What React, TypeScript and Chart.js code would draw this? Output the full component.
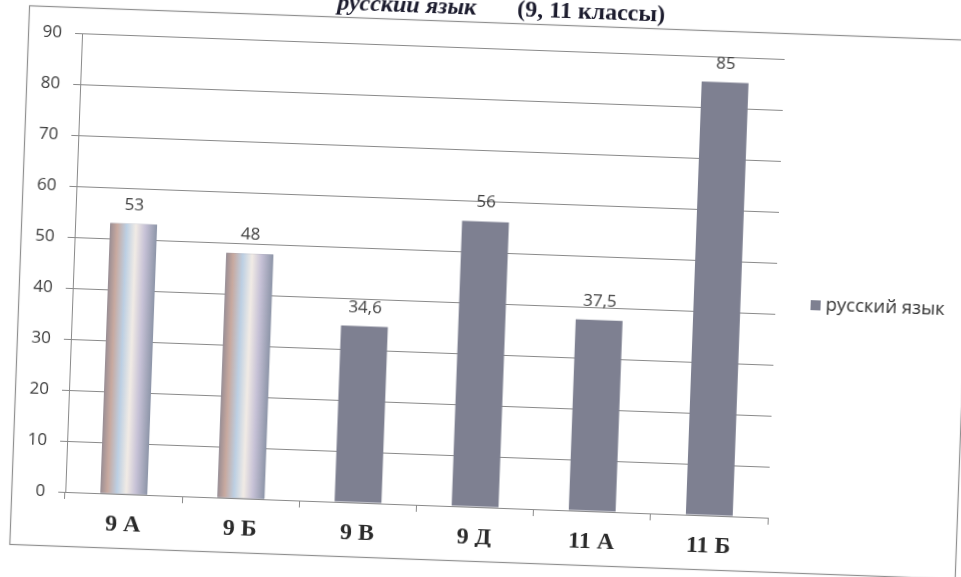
import { useEffect, useRef } from 'react';
import { Chart, registerables } from 'chart.js';

Chart.register(...registerables);

// ---- data ----
const categories = ['9 А', '9 Б', '9 В', '9 Д', '11 А', '11 Б'];
const scores = [53, 48, 34.6, 56, 37.5, 85];
const scoreLabels = ['53', '48', '34,6', '56', '37,5', '85'];
const seriesName = 'русский язык';
const yTickMin = 0;
const yTickMax = 90;
const yTickStep = 10;
const titleSubject = 'русский язык';
const titleGrades = '(9, 11 классы)';
const glareBars = [0, 1];

// ---- style ----
const W = 1001;
const H = 617;
const BAR = '#7e8091';
const GRID = '#8a8a8a';
const SANS = '"Open Sans", "Noto Sans", sans-serif';
const SERIF = '"Liberation Serif", "DejaVu Serif", serif';

export default function App() {
  const ref = useRef<HTMLCanvasElement>(null);

  useEffect(() => {
    const canvas = ref.current;
    if (!canvas) return;

    const decor = {
      id: 'decor',
      beforeDraw(chart: any) {
        const { ctx } = chart;
        ctx.save();
        ctx.fillStyle = '#ffffff';
        ctx.fillRect(0, 0, W, H);
        ctx.strokeStyle = '#8f8f8f';
        ctx.lineWidth = 1.2;
        ctx.strokeRect(39.5, 42.5, 946, 539);
        ctx.restore();
      },
      afterDatasetsDraw(chart: any) {
        const { ctx } = chart;
        const meta = chart.getDatasetMeta(0);
        ctx.save();
        glareBars.forEach((i) => {
          const bar = meta.data[i];
          if (!bar) return;
          const p = bar.getProps(['x', 'y', 'base', 'width'], true);
          const l = p.x - p.width / 2;
          const g = ctx.createLinearGradient(l, 0, l + p.width, 0);
          g.addColorStop(0, '#9a8e94');
          g.addColorStop(0.15, '#c8a99f');
          g.addColorStop(0.35, '#bccfe3');
          g.addColorStop(0.55, '#f1ebe5');
          g.addColorStop(0.75, '#c6c1d6');
          g.addColorStop(1, '#8d95a8');
          ctx.fillStyle = g;
          ctx.fillRect(l, p.y, p.width, p.base - p.y);
        });
        ctx.font = `17px ${SANS}`;
        ctx.fillStyle = '#404040';
        ctx.textAlign = 'center';
        ctx.textBaseline = 'alphabetic';
        meta.data.forEach((bar: any, i: number) => {
          ctx.fillText(scoreLabels[i], bar.x, bar.y - 14);
        });
        ctx.restore();
      },
      afterDraw(chart: any) {
        const { ctx } = chart;
        ctx.save();
        ctx.fillStyle = '#1c1c2e';
        ctx.textBaseline = 'alphabetic';
        ctx.font = `italic bold 24px ${SERIF}`;
        ctx.textAlign = 'right';
        ctx.fillText(titleSubject, 486, 35);
        ctx.font = `bold 24px ${SERIF}`;
        ctx.textAlign = 'left';
        ctx.fillText(titleGrades, 527, 35);

        // legend
        const ds = chart.data.datasets[0];
        ctx.fillStyle = BAR;
        ctx.fillRect(831, 308, 10, 10);
        ctx.font = `18.5px ${SANS}`;
        ctx.fillStyle = '#333333';
        ctx.textBaseline = 'middle';
        ctx.fillText(ds.label, 846, 313);
        ctx.restore();
      },
    };

    const chart = new Chart(canvas, {
      type: 'bar',
      data: {
        labels: categories,
        datasets: [
          {
            label: seriesName,
            data: scores,
            backgroundColor: BAR,
            borderWidth: 0,
            barPercentage: 0.4,
            categoryPercentage: 1,
          },
        ],
      },
      options: {
        responsive: false,
        animation: false,
        layout: { padding: { top: 68, bottom: 50, left: 33, right: 205 } },
        plugins: {
          legend: { display: false },
          tooltip: { enabled: false },
          title: { display: false },
        },
        scales: {
          x: {
            grid: {
              display: true,
              drawOnChartArea: false,
              drawTicks: true,
              tickLength: 7,
              color: GRID,
              offset: true,
            },
            border: { display: true, color: GRID },
            ticks: {
              font: { family: SERIF, size: 24, weight: 'bold' },
              color: '#2a2a2a',
              padding: 9,
              maxRotation: 0,
            },
            afterFit(s: any) {
              s.height = 40;
            },
          },
          y: {
            min: yTickMin,
            max: yTickMax,
            ticks: {
              stepSize: yTickStep,
              font: { family: SANS, size: 17 },
              color: '#3c3c3c',
              padding: 13,
            },
            grid: { color: GRID, tickLength: 7 },
            border: { display: true, color: GRID },
            afterFit(s: any) {
              s.width = 60;
            },
          },
        },
      },
      plugins: [decor],
    } as any);

    return () => chart.destroy();
  }, []);

  return (
    <div
      style={{
        position: 'fixed',
        left: 0,
        top: 0,
        width: 961,
        height: 577,
        overflow: 'hidden',
        background: '#ffffff',
      }}
    >
      <div
        style={{
          position: 'absolute',
          left: -20,
          top: -20,
          width: W,
          height: H,
          transform: 'rotate(2.1deg)',
          transformOrigin: '50% 50%',
        }}
      >
        <canvas ref={ref} width={W} height={H} style={{ width: W, height: H, display: 'block' }} />
      </div>
    </div>
  );
}
